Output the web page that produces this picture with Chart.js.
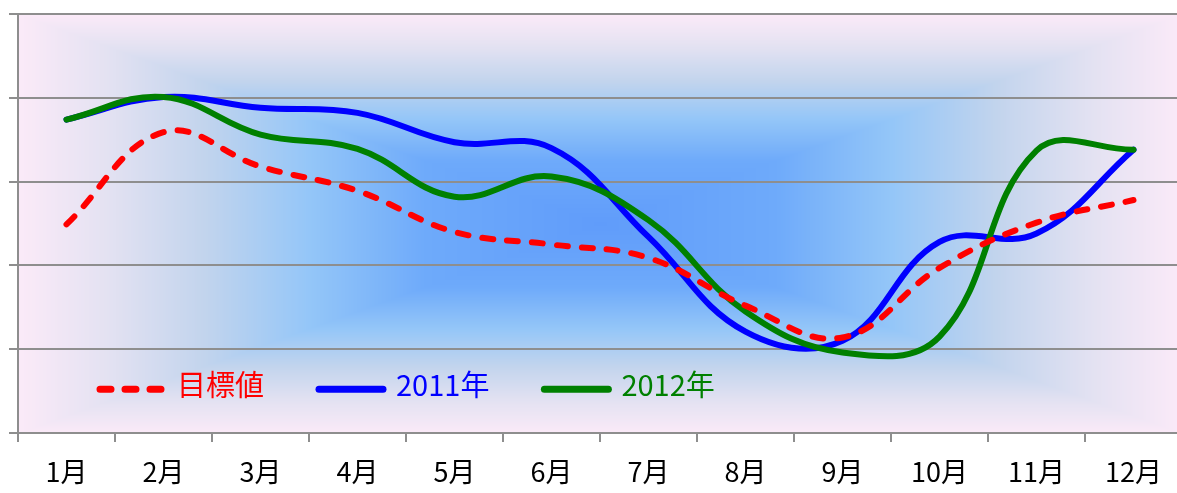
<!DOCTYPE html>
<html>
<head>
<meta charset="utf-8">
<script src="https://cdn.jsdelivr.net/npm/chart.js@4/dist/chart.umd.min.js"></script>
<style>
  html, body { margin: 0; padding: 0; background: #fff; overflow: hidden; }
  #wrap { width: 1190px; height: 493px; }
</style>
</head>
<body>
<div id="wrap"><canvas id="chart"></canvas></div>
<script>
// Monthly values (y axis is unlabelled, 0..5 per gridline).
const months = ['1月', '2月', '3月', '4月', '5月', '6月', '7月', '8月', '9月', '10月', '11月', '12月'];
const seriesLabels = ['目標値', '2011年', '2012年'];
const targetValues = [2.49, 3.59, 3.18, 2.89, 2.40, 2.25, 2.09, 1.52, 1.14, 1.97, 2.51, 2.78];
const values2011 = [3.74, 4.01, 3.88, 3.82, 3.47, 3.40, 2.34, 1.21, 1.10, 2.28, 2.38, 3.38];
const values2012 = [3.74, 4.01, 3.56, 3.39, 2.82, 3.06, 2.54, 1.45, 0.96, 1.15, 3.37, 3.38];

const FONT = '"Noto Sans CJK JP", "Noto Sans", sans-serif';
const GRID = '#8e8e8e';

// Rectangle (path) gradient like the Office plot-area fill: blue centre, pink rim.
const stops = [
  [0.0, [96, 156, 250]],
  [0.3, [110, 170, 250]],
  [0.5, [148, 198, 248]],
  [0.68, [194, 212, 237]],
  [0.85, [228, 226, 242]],
  [1.0, [251, 234, 248]]
];
function gradColor(t) {
  for (let i = 1; i < stops.length; i++) {
    if (t <= stops[i][0]) {
      const [t0, c0] = stops[i - 1];
      const [t1, c1] = stops[i];
      const f = (t - t0) / (t1 - t0);
      return c0.map((c, k) => c + (c1[k] - c) * f);
    }
  }
  return stops[stops.length - 1][1];
}

const backgroundPlugin = {
  id: 'rect-gradient',
  beforeDraw(chart) {
    const { left, top, right, bottom } = chart.chartArea;
    const w = Math.round(right - left);
    const h = Math.round(bottom - top);
    const img = chart.ctx.createImageData(w, h);
    const cx = w / 2, cy = h / 2;
    for (let y = 0; y < h; y++) {
      for (let x = 0; x < w; x++) {
        const t = Math.min(1, Math.max(Math.abs(x - cx) / cx, Math.abs(y - cy) / cy));
        const c = gradColor(t);
        const p = (y * w + x) * 4;
        img.data[p] = c[0];
        img.data[p + 1] = c[1];
        img.data[p + 2] = c[2];
        img.data[p + 3] = 255;
      }
    }
    chart.ctx.putImageData(img, Math.round(left), Math.round(top));
  }
};

// Legend sits inside the plot area, near the bottom left.
const insideLegend = {
  id: 'inside-legend',
  afterDraw(chart) {
    const ctx = chart.ctx;
    const y = chart.scales.y.getPixelForValue(0.57);
    let x = chart.chartArea.left + 79;
    ctx.save();
    ctx.font = '29px ' + FONT;
    ctx.textBaseline = 'middle';
    chart.data.datasets.forEach((ds) => {
      ctx.strokeStyle = ds.borderColor;
      ctx.lineWidth = 7;
      ctx.lineCap = 'round';
      ctx.setLineDash(ds.borderDash ? [11, 14] : []);
      ctx.beginPath();
      ctx.moveTo(x + 3, y + 4);
      ctx.lineTo(x + 67, y + 4);
      ctx.stroke();
      ctx.setLineDash([]);
      ctx.fillStyle = ds.borderColor;
      ctx.fillText(ds.label, x + 80, y);
      x += 80 + ctx.measureText(ds.label).width + 52;
    });
    ctx.restore();
  }
};

new Chart(document.getElementById('chart'), {
  type: 'line',
  data: {
    labels: months,
    datasets: [
      {
        label: seriesLabels[0],
        data: targetValues,
        borderColor: '#ff0000',
        borderWidth: 6,
        borderDash: [11, 14],
        borderCapStyle: 'round',
        order: 0
      },
      {
        label: seriesLabels[1],
        data: values2011,
        borderColor: '#0000ff',
        borderWidth: 6,
        borderCapStyle: 'round',
        order: 2
      },
      {
        label: seriesLabels[2],
        data: values2012,
        borderColor: '#008000',
        borderWidth: 6,
        borderCapStyle: 'round',
        order: 1
      }
    ]
  },
  options: {
    responsive: true,
    maintainAspectRatio: false,
    animation: false,
    layout: { padding: { top: 14, right: 8, left: 0, bottom: 0 } },
    elements: {
      line: { tension: 0.4, fill: false },
      point: { radius: 0, hoverRadius: 0 }
    },
    plugins: {
      legend: { display: false },
      tooltip: { enabled: false }
    },
    scales: {
      x: {
        offset: true,
        grid: { offset: true, drawOnChartArea: false, tickLength: 9, color: GRID, lineWidth: 2 },
        border: { color: GRID, width: 2 },
        ticks: { color: '#000', font: { family: FONT, size: 27 }, padding: 14, maxRotation: 0 },
        afterFit: (scale) => { scale.height = 60; }
      },
      y: {
        min: 0,
        max: 5,
        ticks: { display: false, stepSize: 1 },
        grid: { color: GRID, lineWidth: 2, tickLength: 9 },
        border: { color: GRID, width: 2 },
        afterFit: (scale) => { scale.width = 18; }
      }
    }
  },
  plugins: [backgroundPlugin, insideLegend]
});
</script>
</body>
</html>
